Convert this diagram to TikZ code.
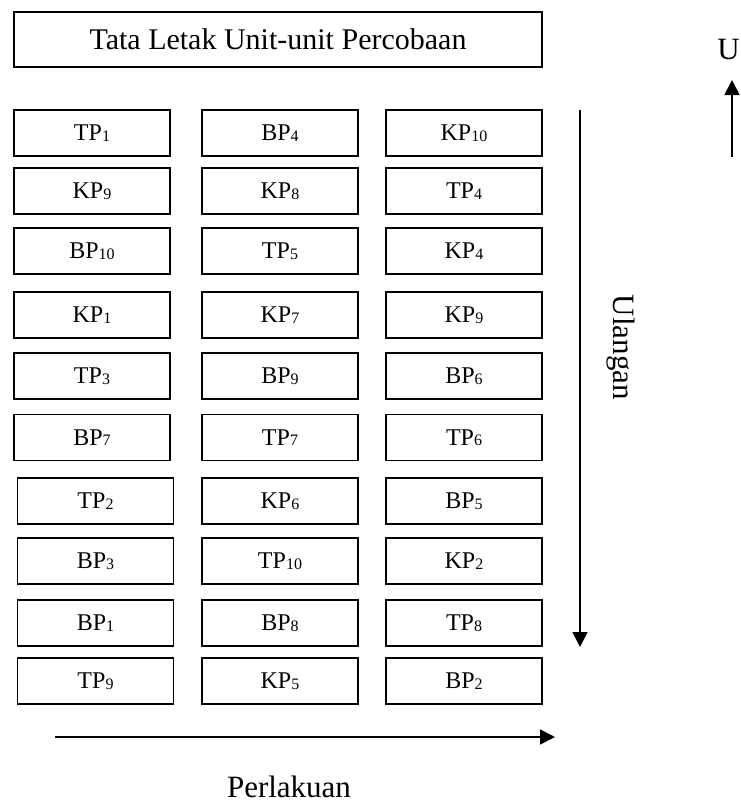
\documentclass[tikz,border=0pt]{standalone}
\usepackage{fontspec}
\setmainfont{Liberation Serif}
\usetikzlibrary{arrows.meta}
\newcommand{\lbl}[2]{#1\raisebox{-0.5pt}{\fontsize{16}{16}\selectfont #2}}
\begin{document}
\begin{tikzpicture}[x=1pt,y=-1pt,
  unit/.style={draw, line width=1.6pt, minimum width=156pt, minimum height=46pt, inner sep=0pt, font=\fontsize{24}{24}\selectfont},
  titlebox/.style={draw, line width=1.6pt, minimum width=528pt, minimum height=55pt, inner sep=0pt, font=\fontsize{30}{30}\selectfont},
  bigtext/.style={font=\fontsize{31}{31}\selectfont, inner sep=0pt},
  arr/.style={line width=1.6pt, -{Triangle[length=15pt,width=15pt]}}]
\useasboundingbox (0,0) rectangle (741,803);
\node[titlebox] (title) at (278,39.5) {Tata Letak Unit-unit Percobaan};
% column 1
\node[unit] (a1) at (92,133) {\lbl{TP}{1}};
\node[unit] (a2) at (92,191) {\lbl{KP}{9}};
\node[unit] (a3) at (92,251) {\lbl{BP}{10}};
\node[unit] (a4) at (92,315) {\lbl{KP}{1}};
\node[unit] (a5) at (92,376) {\lbl{TP}{3}};
\node[unit] (a6) at (92,437.5) {\lbl{BP}{7}};
\node[unit] (a7) at (95.5,501) {\lbl{TP}{2}};
\node[unit] (a8) at (95.5,561) {\lbl{BP}{3}};
\node[unit] (a9) at (95.5,623) {\lbl{BP}{1}};
\node[unit] (a10) at (95.5,681) {\lbl{TP}{9}};
% column 2
\node[unit] (b1) at (280,133) {\lbl{BP}{4}};
\node[unit] (b2) at (280,191) {\lbl{KP}{8}};
\node[unit] (b3) at (280,251) {\lbl{TP}{5}};
\node[unit] (b4) at (280,315) {\lbl{KP}{7}};
\node[unit] (b5) at (280,376) {\lbl{BP}{9}};
\node[unit] (b6) at (280,437.5) {\lbl{TP}{7}};
\node[unit] (b7) at (280,501) {\lbl{KP}{6}};
\node[unit] (b8) at (280,561) {\lbl{TP}{10}};
\node[unit] (b9) at (280,623) {\lbl{BP}{8}};
\node[unit] (b10) at (280,681) {\lbl{KP}{5}};
% column 3
\node[unit] (c1) at (464,133) {\lbl{KP}{10}};
\node[unit] (c2) at (464,191) {\lbl{TP}{4}};
\node[unit] (c3) at (464,251) {\lbl{KP}{4}};
\node[unit] (c4) at (464,315) {\lbl{KP}{9}};
\node[unit] (c5) at (464,376) {\lbl{BP}{6}};
\node[unit] (c6) at (464,437.5) {\lbl{TP}{6}};
\node[unit] (c7) at (464,501) {\lbl{BP}{5}};
\node[unit] (c8) at (464,561) {\lbl{KP}{2}};
\node[unit] (c9) at (464,623) {\lbl{TP}{8}};
\node[unit] (c10) at (464,681) {\lbl{BP}{2}};
% labels
\node[bigtext, rotate=-90, anchor=base] (ulangan) at (613,347.5) {Ulangan};
\node[bigtext, anchor=base] (perlakuan) at (289,797) {Perlakuan};
\node[bigtext, anchor=base] (u) at (728.5,59) {U};
% arrows
\coordinate (v1) at (580,110);
\coordinate (v2) at (580,647);
\coordinate (h1) at (55,737);
\coordinate (h2) at (555,737);
\coordinate (n1) at (732,157);
\coordinate (n2) at (732,80);
\draw[arr] (v1) -- (v2);
\draw[arr] (h1) -- (h2);
\draw[arr] (n1) -- (n2);
\end{tikzpicture}
\end{document}
